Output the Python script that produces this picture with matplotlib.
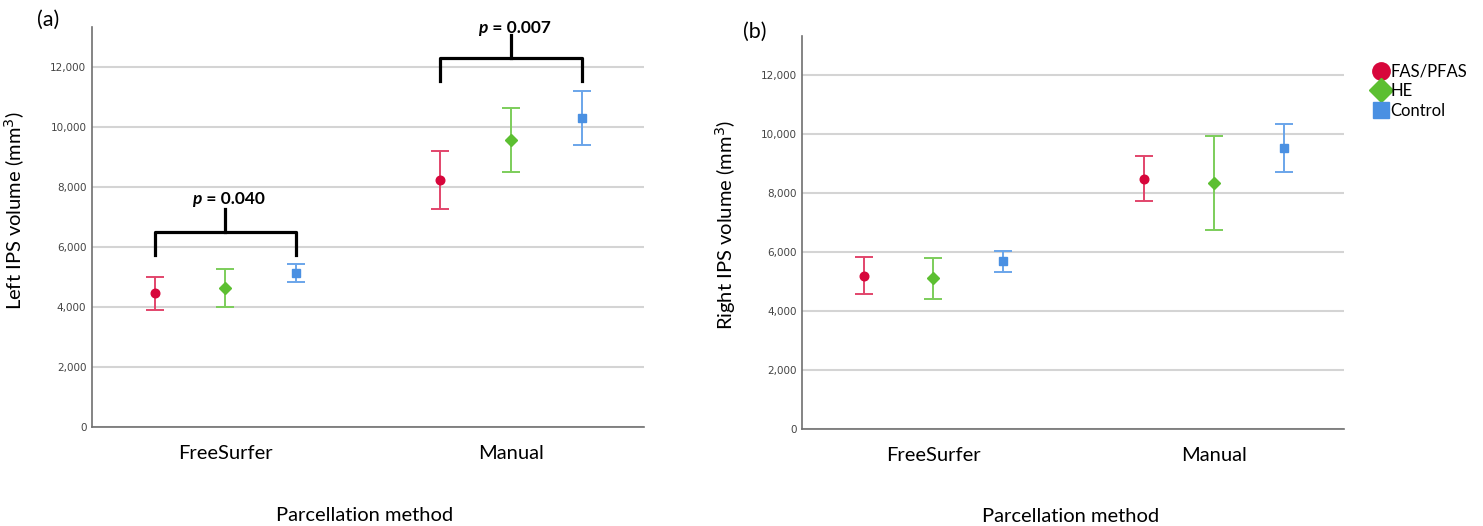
import matplotlib
matplotlib.use("Agg")
import matplotlib.pyplot as plt
from matplotlib.lines import Line2D
import numpy as np

###########################
# DATA
###########################
methods = ["FreeSurfer", "Manual"]
groups = ["FAS/PFAS", "HE", "Control"]

# left IPS volume (mm3): mean, lower / upper error bar ends, per group
left_mean = {"FAS/PFAS": [4456, 8233], "HE": [4644, 9567], "Control": [5133, 10290]}
left_low = {"FAS/PFAS": [3910, 7267], "HE": [4000, 8490], "Control": [4844, 9390]}
left_high = {"FAS/PFAS": [4990, 9210], "HE": [5267, 10623], "Control": [5433, 11200]}

# right IPS volume (mm3)
right_mean = {"FAS/PFAS": [5197, 8497], "HE": [5108, 8350], "Control": [5695, 9525]}
right_low = {"FAS/PFAS": [4566, 7729], "HE": [4418, 6768], "Control": [5333, 8712]}
right_high = {"FAS/PFAS": [5831, 9265], "HE": [5797, 9932], "Control": [6045, 10339]}

y_ticks = [0, 2000, 4000, 6000, 8000, 10000, 12000]
p_labels = ["0.040", "0.007"]

###########################
# PLOT PARAMETERS
###########################
LABEL_SIZE = 14.5
plt.rcParams['font.family'] = ['Lato', 'DejaVu Sans']
colors = {"FAS/PFAS": "#d7063b", "HE": "#5cbf31", "Control": "#4a90e2"}
bar_colors = {"FAS/PFAS": "#e2456b", "HE": "#7ccd5a", "Control": "#6aa5ea"}
markers = {"FAS/PFAS": "o", "HE": "D", "Control": "s"}
msizes = {"FAS/PFAS": 6.2, "HE": 6.0, "Control": 5.6}
offsets = {"FAS/PFAS": -0.248, "HE": 0.0, "Control": 0.248}

fig = plt.figure(figsize=(14.83, 5.26), dpi=100)
ax1 = fig.add_axes([0.062, 0.188, 0.372, 0.761])
ax2 = fig.add_axes([0.5408, 0.1844, 0.3655, 0.7472])


def draw_panel(ax, means, lows, highs, ylabel, ylab_y):
    x = np.arange(len(methods))
    for g in groups:
        m = np.array(means[g])
        lo = m - np.array(lows[g])
        hi = np.array(highs[g]) - m
        ax.errorbar(x + offsets[g], m, yerr=[lo, hi], fmt='none',
                    ecolor=bar_colors[g], elinewidth=1.4, capsize=6.4,
                    capthick=1.4, zorder=3)
        ax.plot(x + offsets[g], m, linestyle='none', marker=markers[g],
                markersize=msizes[g], color=colors[g], zorder=4)

    ax.set_xlim(-0.467, 1.463)
    ax.set_ylim(0, 13333)
    ax.set_yticks(y_ticks)
    ax.set_yticklabels([f"{v:,}" for v in y_ticks], fontsize=7.5,
                       color="#444444", family='DejaVu Sans')
    ax.set_xticks(x)
    ax.set_xticklabels(methods, fontsize=LABEL_SIZE)
    ax.tick_params(axis='both', length=0)
    ax.tick_params(axis='x', pad=13)
    ax.tick_params(axis='y', pad=4)
    ax.grid(axis='y', color='#d4d4d4', linewidth=1.5)
    ax.set_axisbelow(True)
    for s in ['top', 'right']:
        ax.spines[s].set_visible(False)
    for s in ['left', 'bottom']:
        ax.spines[s].set_color('#707070')
        ax.spines[s].set_linewidth(1.2)
    ax.set_ylabel(ylabel, fontsize=LABEL_SIZE)
    ax.yaxis.set_label_coords(-0.118, ylab_y)
    ax.set_xlabel("Parcellation method", fontsize=LABEL_SIZE)
    ax.xaxis.set_label_coords(0.495, -0.2)


draw_panel(ax1, left_mean, left_low, left_high, "Left IPS volume (mm$^3$)", 0.54)
draw_panel(ax2, right_mean, right_low, right_high, "Right IPS volume (mm$^3$)", 0.52)


# significance brackets on panel (a)
def bracket(ax, i, y, leg, stem, label, dy):
    x0 = i + offsets["FAS/PFAS"]
    x1 = i + offsets["Control"]
    xm = i + offsets["HE"]
    ax.plot([x0, x0, x1, x1], [leg, y, y, leg], color='black', lw=2.3,
            solid_joinstyle='round', clip_on=False, zorder=5)
    ax.plot([xm, xm], [y, stem], color='black', lw=2.3, clip_on=False, zorder=5)
    ax.annotate("p", xy=(xm, stem), xytext=(-17, dy), textcoords='offset points',
                ha='right', va='bottom', fontsize=12.5, fontweight='bold',
                fontstyle='italic', annotation_clip=False)
    ax.annotate(" = " + label, xy=(xm, stem), xytext=(-17, dy), textcoords='offset points',
                ha='left', va='bottom', fontsize=12.5, fontweight='bold',
                annotation_clip=False)


bracket(ax1, 0, 6510, 5733, 7257, p_labels[0], 1.5)
bracket(ax1, 1, 12290, 11543, 13067, p_labels[1], -0.5)

fig.text(0.025, 0.962, "(a)", fontsize=15.5, ha='left', va='center')
fig.text(0.501, 0.94, "(b)", fontsize=15.5, ha='left', va='center')

handles = [Line2D([], [], linestyle='none', marker=markers[g], color=colors[g],
                  markersize={"FAS/PFAS": 12.5, "HE": 12, "Control": 11}[g])
           for g in groups]
fig.legend(handles, groups, loc='upper left', bbox_to_anchor=(0.921, 0.892),
           frameon=False, fontsize=12, handletextpad=0.05, labelspacing=0.22,
           handlelength=1.0, borderaxespad=0)

fig.savefig("out.png", dpi=100)
